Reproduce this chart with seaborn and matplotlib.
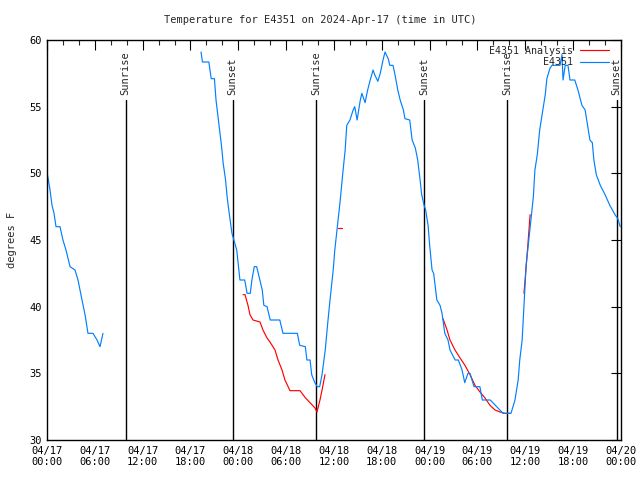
import numpy as np
import pandas as pd
import matplotlib
matplotlib.use("Agg")
import matplotlib.pyplot as plt
import matplotlib.dates as mdates
from matplotlib.lines import Line2D
import seaborn as sns

sns.set_style("white")
plt.rcParams['font.family'] = ['DejaVu Sans Mono', 'DejaVu Sans']

START = pd.Timestamp("2024-04-17 00:00")

# ---- observed series (E4351), hours since 04/17 00:00 UTC ----
obs1_h = [0.0, 0.38, 0.63, 0.88, 1.13, 1.63, 2.0, 2.38, 2.89, 3.51, 3.89, 4.39, 4.77, 5.14, 5.77, 6.27, 6.65, 7.02]
obs1_t = [50.1, 48.75, 47.6, 47.0, 46.0, 46.0, 45.0, 44.25, 43.0, 42.75, 42.0, 40.5, 39.4, 38.0, 38.0, 37.5, 37.0, 38.0]

obs2_h = [19.32, 19.5, 20.3, 20.6, 21.0, 21.2, 21.6, 21.9, 22.1, 22.4, 22.6, 22.8, 23.2, 23.8, 24.2, 24.8,
          25.1, 25.5, 25.7, 26.0, 26.3, 26.7, 27.0, 27.2, 27.6, 28.0, 29.2, 29.6, 31.4, 31.7, 32.4, 32.6,
          33.0, 33.2, 33.6, 33.9, 34.2, 34.5, 34.9, 35.25, 35.5, 35.9, 36.1, 36.75, 37.1, 37.4, 37.6, 38.0,
          38.4, 38.6, 38.9, 39.3, 39.5, 39.9, 40.2, 40.5, 40.9, 41.1, 41.5, 41.8, 42.15, 42.4, 42.8, 43.0,
          43.4, 43.65, 44.0, 44.3, 44.7, 44.9, 45.5, 45.8, 46.2, 46.5, 46.8, 47.0, 47.3, 47.5, 47.8, 48.0,
          48.3, 48.5, 48.9, 49.3, 49.55, 49.9, 50.3, 50.55, 51.2, 51.6, 52.06, 52.4, 52.8, 53.06, 53.56, 54.3,
          54.6, 55.6, 57.2, 58.2, 58.7, 59.1, 59.3, 59.6, 59.8, 60.1, 60.3, 61.0, 61.2, 61.5, 61.8, 62.2,
          62.5, 62.7, 63.1, 63.35, 64.35, 64.6, 64.73, 65.0, 65.35, 65.6, 66.2, 66.6, 67.1, 67.5, 67.9, 68.1,
          68.4, 68.6, 68.9, 69.4, 70.0, 70.6, 71.25, 71.6, 71.9]
obs2_t = [59.1, 58.35, 58.35, 57.1, 57.1, 55.5, 53.5, 52.0, 50.75, 49.5, 48.2, 47.25, 45.5, 44.25, 42.0, 42.0,
          41.0, 41.0, 42.0, 43.0, 43.0, 42.0, 41.25, 40.1, 40.0, 39.0, 39.0, 38.0, 38.0, 37.1, 37.0, 36.0,
          36.0, 34.9, 34.3, 34.0, 34.0, 34.9, 36.75, 39.0, 40.5, 42.75, 44.25, 47.8, 50.0, 51.75, 53.6, 54.0,
          54.75, 55.0, 54.0, 55.5, 56.0, 55.3, 56.2, 56.9, 57.75, 57.4, 56.9, 57.5, 58.5, 59.1, 58.6, 58.1,
          58.1, 57.4, 56.25, 55.5, 54.75, 54.1, 54.0, 52.5, 51.9, 51.0, 49.5, 48.4, 47.6, 47.25, 46.1, 44.6,
          42.75, 42.5, 40.5, 40.1, 39.5, 38.0, 37.5, 36.75, 36.0, 36.0, 35.25, 34.3, 35.0, 35.0, 34.0, 34.0,
          33.0, 33.0, 32.0, 32.0, 33.0, 34.5, 36.0, 37.5, 39.75, 43.1, 44.25, 48.2, 50.25, 51.4, 53.25, 54.75,
          55.9, 57.1, 57.9, 58.1, 58.1, 58.9, 57.0, 58.1, 58.1, 57.0, 57.0, 56.25, 55.1, 54.75, 53.25, 52.5,
          52.3, 51.0, 49.9, 49.1, 48.4, 47.6, 46.9, 46.6, 46.0]

# ---- analysis series (E4351 Analysis) ----
ana1_h = [24.59, 24.84, 25.21, 25.46, 25.84, 26.72, 27.09, 27.60, 27.97, 28.60, 28.98, 29.48, 29.85,
          30.48, 31.74, 32.36, 32.99, 33.62, 33.87, 34.24, 34.50, 34.87]
ana1_t = [40.9, 40.9, 40.1, 39.4, 39.0, 38.85, 38.25, 37.65, 37.35, 36.75, 36.0, 35.25, 34.5,
          33.7, 33.7, 33.2, 32.8, 32.4, 32.1, 33.0, 33.75, 34.9]
ana2_h = [36.55, 36.95]
ana2_t = [45.9, 45.9]
ana3_h = [49.67, 50.18, 50.55, 51.18, 51.81, 52.43, 53.06, 53.69, 54.31, 54.94, 55.57, 56.2, 56.82, 57.45, 58.08]
ana3_t = [39.1, 38.25, 37.5, 36.75, 36.15, 35.6, 34.9, 34.1, 33.6, 33.15, 32.6, 32.25, 32.1, 32.0, 32.0]
ana4_h = [59.83, 60.1, 60.3, 60.6]
ana4_t = [41.0, 43.0, 44.5, 46.9]

# ---- sun events (hours since start) ----
sun_h = [9.87, 23.29, 33.8, 47.33, 57.74, 71.46]
sun_labels = ["Sunrise", "Sunset", "Sunrise", "Sunset", "Sunrise", "Sunset"]

series_names = ["E4351 Analysis", "E4351"]
colors = {"E4351 Analysis": "#ff0000", "E4351": "#0080ff"}

rows = []
def add(name, seg, hs, ts):
    for h, t in zip(hs, ts):
        rows.append({"series": name, "seg": seg, "time": START + pd.Timedelta(hours=h), "temp": t})

add("E4351", "o1", obs1_h, obs1_t)
add("E4351", "o2", obs2_h, obs2_t)
add("E4351 Analysis", "a1", ana1_h, ana1_t)
add("E4351 Analysis", "a2", ana2_h, ana2_t)
add("E4351 Analysis", "a3", ana3_h, ana3_t)
add("E4351 Analysis", "a4", ana4_h, ana4_t)
df = pd.DataFrame(rows)

fig = plt.figure(figsize=(6.4, 4.8), dpi=100)
ax = fig.add_axes([47/640, 1-440/480, (621-47)/640, 400/480])

sns.lineplot(data=df[df.series == "E4351 Analysis"], x="time", y="temp", units="seg", estimator=None,
             color=colors["E4351 Analysis"], lw=0.85, ax=ax, legend=False, sort=False)
sns.lineplot(data=df[df.series == "E4351"], x="time", y="temp", units="seg", estimator=None,
             color=colors["E4351"], lw=0.85, ax=ax, legend=False, sort=False)

for h, lab in zip(sun_h, sun_labels):
    t = START + pd.Timedelta(hours=h)
    ax.plot([t, t], [30, 55.5], color="black", lw=1.0, zorder=1)
    ax.text(t, 55.9, lab, rotation=90, ha="center", va="bottom", fontsize=7.5)

ax.set_xlim(START, START + pd.Timedelta(hours=72))
ax.set_ylim(30, 60)
ax.set_yticks(np.arange(30, 61, 5))
ax.xaxis.set_major_locator(mdates.HourLocator(byhour=[0, 6, 12, 18]))
ax.xaxis.set_minor_locator(mdates.HourLocator(byhour=range(0, 24, 2)))
ax.xaxis.set_major_formatter(mdates.DateFormatter("%m/%d\n%H:%M"))
ax.tick_params(axis="both", which="major", direction="in", length=7, width=0.8,
               top=True, right=True, labelsize=7.5, pad=4, colors="black")
ax.tick_params(axis="both", which="minor", direction="in", length=3.5, width=0.8, top=True, right=True)
for s in ax.spines.values():
    s.set_color("black")
    s.set_linewidth(1.0)
ax.set_xlabel("")
ax.set_ylabel("degrees F", fontsize=7.5)
ax.yaxis.set_label_coords(-0.052, 0.5)

fig.text(0.5, 1-20/480, "Temperature for E4351 on 2024-Apr-17 (time in UTC)", ha="center", va="center", fontsize=7.5)

handles = [Line2D([0], [0], color=colors[n], lw=0.85) for n in series_names]
leg = ax.legend(handles, series_names, loc="upper right", frameon=False, markerfirst=False,
                fontsize=7.2, handlelength=2.9, handletextpad=0.7, labelspacing=0.15,
                borderaxespad=0.2, bbox_to_anchor=(0.99, 1.0))
for txt in leg.get_texts():
    txt.set_ha("right")

fig.savefig("out.png", dpi=100, facecolor="white")
